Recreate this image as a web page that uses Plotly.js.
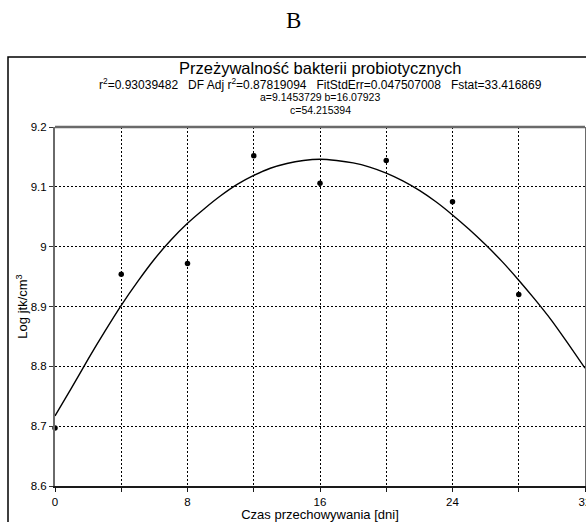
<!DOCTYPE html>
<html>
<head>
<meta charset="utf-8">
<script src="https://cdn.plot.ly/plotly-3.0.1.min.js"></script>
<style>html,body{margin:0;padding:0;background:#fff;}#chart{width:586px;height:522px;}</style>
</head>
<body>
<div id="chart"></div>
<script>
// Observed data points
const dayPoints = [0, 4, 8, 12, 16, 20, 24, 28];
const logPoints = [8.697, 8.954, 8.972, 9.152, 9.106, 9.144, 9.075, 8.920];

// Fitted curve
const curveDays = [0,1,2,3,4,5,6,7,8,9,10,11,12,13,14,15,16,17,18,19,20,21,22,23,24,25,26,27,28,29,30,31,32];
const curveLog = [8.717,8.764,8.812,8.858,8.902,8.942,8.979,9.011,9.039,9.063,9.085,9.104,9.119,9.131,9.139,9.144,9.146,9.144,9.140,9.133,9.123,9.110,9.094,9.075,9.053,9.029,9.003,8.975,8.944,8.911,8.876,8.837,8.797];

const xTickVals = [0,4,8,12,16,20,24,28,32];
const xTickText = ['0','','8','','16','','24','','32'];
const yTickVals = [8.6,8.7,8.8,8.9,9.0,9.1,9.2];
const yTickText = ['8.6','8.7','8.8','8.9','9','9.1','9.2'];

const panelLetter = 'B';
const titleMain = 'Przeżywalność bakterii probiotycznych';
const gap = '\u00a0\u00a0\u00a0';
const titleStats = 'r<sup>2</sup>=0.93039482' + gap + 'DF Adj r<sup>2</sup>=0.87819094' + gap + 'FitStdErr=0.047507008' + gap + 'Fstat=33.416869';
const titleParams1 = 'a=9.1453729 b=16.07923';
const titleParams2 = 'c=54.215394';
const xTitle = 'Czas przechowywania [dni]';
const yTitle = 'Log jtk/cm<sup>3</sup>';

// layout geometry (pixels)
const W = 586, H = 522;
const M = {l: 55, r: 1, t: 127, b: 36};
const pw = W - M.l - M.r, ph = H - M.t - M.b;
const px = x => (x - M.l) / pw;
const py = y => (H - M.b - y) / ph;

const sans = 'Liberation Sans, Arial, sans-serif';

const traces = [
  {
    x: curveDays, y: curveLog, type: 'scatter', mode: 'lines',
    line: {color: '#000', width: 1.4, shape: 'spline', smoothing: 0.8},
    hoverinfo: 'skip', showlegend: false
  },
  {
    x: dayPoints, y: logPoints, type: 'scatter', mode: 'markers',
    marker: {color: '#000', size: 5.5},
    showlegend: false, cliponaxis: false
  }
];

const layout = {
  width: W, height: H,
  margin: M,
  paper_bgcolor: '#fff', plot_bgcolor: '#fff',
  showlegend: false,
  font: {family: sans, color: '#000', size: 11},
  xaxis: {
    range: [0, 32], tickvals: xTickVals, ticktext: xTickText,
    showgrid: true, gridcolor: '#000', griddash: '2px,2px', gridwidth: 1,
    zeroline: false, showline: true, linecolor: '#1a1a1a', linewidth: 2,
    ticks: 'outside', ticklen: 4, tickcolor: '#1a1a1a', tickwidth: 1,
    ticklabeloverflow: 'allow',
    tickfont: {family: sans, size: 11.5, color: '#000'},
    title: {text: xTitle, font: {family: sans, size: 13, color: '#000'}, standoff: 3}
  },
  yaxis: {
    range: [8.6, 9.2], tickvals: yTickVals, ticktext: yTickText,
    showgrid: true, gridcolor: '#000', griddash: '2px,2px', gridwidth: 1,
    zeroline: false, showline: true, linecolor: '#6a6a6a', linewidth: 2, mirror: true,
    ticks: 'outside', ticklen: 4, tickcolor: '#333', tickwidth: 1,
    tickfont: {family: sans, size: 11.5, color: '#000'},
    title: {text: yTitle, font: {family: sans, size: 13, color: '#000'}, standoff: 0}
  },
  shapes: [
    // top border of plot area
    {type: 'line', xref: 'paper', yref: 'paper', x0: 0, x1: 1, y0: 1, y1: 1,
     line: {color: '#6a6a6a', width: 2.5}},
    // outer frame
    {type: 'rect', xref: 'paper', yref: 'paper', x0: px(8), x1: px(600), y0: py(540), y1: py(57),
     line: {color: '#000', width: 1.5}, fillcolor: 'rgba(0,0,0,0)', layer: 'below'}
  ],
  annotations: [
    {text: panelLetter, xref: 'paper', yref: 'paper', x: px(293), y: py(20), xanchor: 'center', yanchor: 'middle',
     showarrow: false, font: {family: 'Liberation Serif, Times New Roman, serif', size: 23, color: '#000'}},
    {text: titleMain, xref: 'paper', yref: 'paper', x: px(320), y: py(68), xanchor: 'center', yanchor: 'middle',
     showarrow: false, font: {family: sans, size: 16.5, color: '#000'}},
    {text: titleStats, xref: 'paper', yref: 'paper', x: px(320), y: py(84), xanchor: 'center', yanchor: 'middle',
     showarrow: false, font: {family: sans, size: 12, color: '#000'}},
    {text: titleParams1, xref: 'paper', yref: 'paper', x: px(320), y: py(97), xanchor: 'center', yanchor: 'middle',
     showarrow: false, font: {family: sans, size: 10.5, color: '#000'}},
    {text: titleParams2, xref: 'paper', yref: 'paper', x: px(320), y: py(109.5), xanchor: 'center', yanchor: 'middle',
     showarrow: false, font: {family: sans, size: 10.5, color: '#000'}}
  ]
};

Plotly.newPlot('chart', traces, layout, {displayModeBar: false, staticPlot: true});
</script>
</body>
</html>
